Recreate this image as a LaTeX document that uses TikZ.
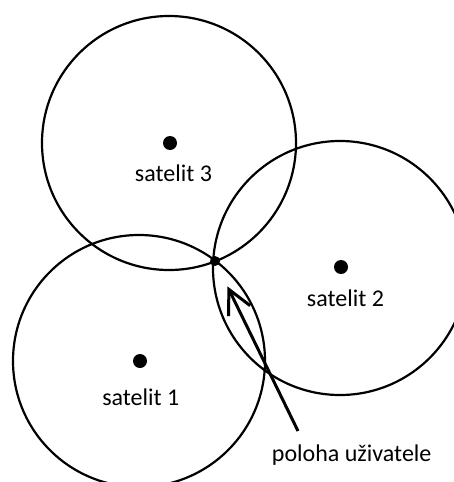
\documentclass[tikz,border=0pt]{standalone}
\usepackage{fontspec}
\setmainfont{Carlito}
\usetikzlibrary{arrows.meta}
\begin{document}
\begin{tikzpicture}[x=1pt,y=-1pt,
  rangering/.style={draw=black, line width=2.2pt},
  sat/.style={circle, fill=black, inner sep=0pt, minimum size=14pt},
  user/.style={circle, fill=black, inner sep=0pt, minimum size=10pt},
  lbl/.style={font=\fontsize{24}{28}\selectfont, inner sep=0pt, anchor=base},
  pointer/.style={line width=3pt, -{Straight Barb[length=24pt, width=24pt]}, shorten >=23pt}]
\useasboundingbox (0,0) rectangle (454,482);
\clip (0,0) rectangle (454,482);

% range circles around the satellites
\draw[rangering] (169,143) circle[radius=127];
\draw[rangering] (139,361) circle[radius=126];
\draw[rangering] (340,268) circle[radius=127];

% satellites
\node[sat] (s3) at (170,143) {};
\node[sat] (s2) at (341,267) {};
\node[sat] (s1) at (140,361) {};
\node[lbl] (l3) at (173.5,181.7) {satelit 3};
\node[lbl] (l2) at (345.5,306.7) {satelit 2};
\node[lbl] (l1) at (140.8,405) {satelit 1};

% receiver position
\node[user] (u) at (215,261) {};
\node[lbl] (lu) at (351.7,461) {poloha uživatele};
\coordinate (tail) at (298,431);
\draw[pointer] (tail) -- (u);
\end{tikzpicture}
\end{document}
